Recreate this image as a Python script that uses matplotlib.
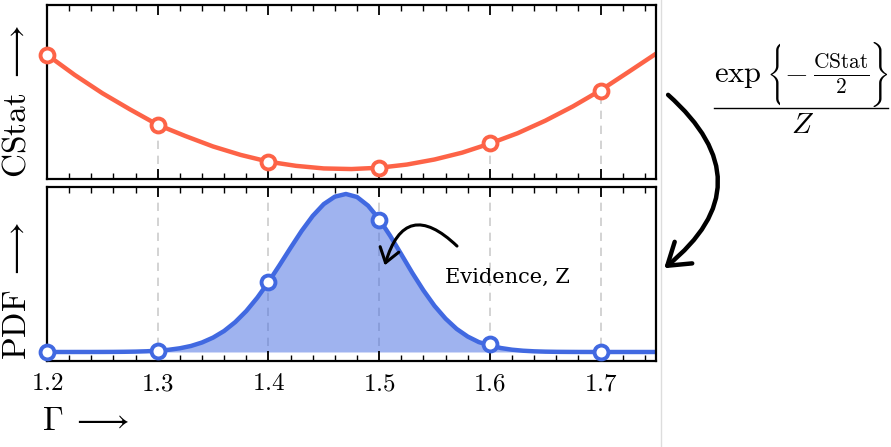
import numpy as np
import matplotlib
matplotlib.use("Agg")
import matplotlib.pyplot as plt
from matplotlib.patches import FancyArrowPatch
from matplotlib.lines import Line2D
from matplotlib.ticker import MultipleLocator
from matplotlib.transforms import Bbox

plt.rcParams['mathtext.fontset'] = 'cm'
plt.rcParams['font.family'] = 'serif'
plt.rcParams['font.serif'] = ['DejaVu Serif']

# sampled points (markers)
gamma_pts = [1.2, 1.3, 1.4, 1.5, 1.6, 1.7]
cstat_pts = [12.5, 5.4, 1.7, 1.1, 3.6, 8.9]
pdf_pts = [0.0, 0.008, 0.44, 0.835, 0.05, 0.0]

# smooth curves
gamma_cs = [1.200, 1.225, 1.250, 1.275, 1.300, 1.325, 1.350, 1.375, 1.400, 1.425, 1.450, 1.475,
            1.500, 1.525, 1.550, 1.575, 1.600, 1.625, 1.650, 1.675, 1.700, 1.725, 1.750]
cstat_curve = [12.5, 10.47, 8.63, 7.0, 5.45, 4.32, 3.27, 2.42, 1.74, 1.32, 1.06, 1.0,
               1.13, 1.45, 1.96, 2.65, 3.56, 4.6, 5.86, 7.3, 8.92, 10.75, 12.6]

gamma_pdf = [1.20, 1.21, 1.22, 1.23, 1.24, 1.25, 1.26, 1.27, 1.28, 1.29, 1.30, 1.31, 1.32, 1.33,
             1.34, 1.35, 1.36, 1.37, 1.38, 1.39, 1.40, 1.41, 1.42, 1.43, 1.44, 1.45, 1.46, 1.47,
             1.48, 1.49, 1.50, 1.51, 1.52, 1.53, 1.54, 1.55, 1.56, 1.57, 1.58, 1.59, 1.60, 1.61,
             1.62, 1.63, 1.64, 1.65, 1.66, 1.67, 1.68, 1.70, 1.72, 1.75]
pdf_curve = [0.0, 0.0, 0.0, 0.0001, 0.0001, 0.0003, 0.0006, 0.0013, 0.0024, 0.0045, 0.0081, 0.014,
             0.0235, 0.038, 0.060, 0.091, 0.133, 0.189, 0.259, 0.344, 0.442, 0.549, 0.659, 0.766,
             0.861, 0.936, 0.983, 1.0, 0.981, 0.926, 0.841, 0.735, 0.618, 0.500, 0.390, 0.292,
             0.211, 0.146, 0.0976, 0.0627, 0.042, 0.025, 0.0145, 0.008, 0.0042, 0.0021, 0.001,
             0.0005, 0.0002, 0.0, 0.0, 0.0]

red = '#fd6347'
blue = '#4169e1'
W, H = 891, 447

def fp(x, y):
    # pixel position in the picture -> figure fraction
    return (x / W, 1 - y / H)

def pixbox(x0, y0, x1, y1):
    # picture pixel rectangle -> display bbox (for clipping)
    return Bbox.from_extents(x0, H - y1, x1, H - y0)

fig = plt.figure(figsize=(8.91, 4.47), dpi=100)
ax1 = fig.add_axes([0.0527, 0.5996, 0.6835, 0.3892])
ax2 = fig.add_axes([0.0527, 0.1924, 0.6835, 0.3892])

for ax in (ax1, ax2):
    ax.set_xlim(1.2, 1.75)
    ax.xaxis.set_major_locator(MultipleLocator(0.1))
    ax.xaxis.set_minor_locator(MultipleLocator(0.02))
    ax.tick_params(axis='x', which='major', direction='in', top=True, bottom=True,
                   length=7, width=1.3)
    ax.tick_params(axis='x', which='minor', direction='in', top=True, bottom=True,
                   length=4, width=1.0)
    ax.set_yticks([])
    for s in ax.spines.values():
        s.set_linewidth(1.6)

# top panel
ax1.set_ylim(0, 17.5)
ax1.vlines(gamma_pts[1:], 0, cstat_pts[1:], colors='#cccccc', linestyles=(0, (5, 4)), lw=1.2, zorder=1)
ax1.plot(gamma_cs, cstat_curve, color=red, lw=3.2, zorder=2, solid_capstyle='round')
ax1.plot(gamma_pts, cstat_pts, 'o', ms=10, mfc='white', mec=red, mew=2.8, zorder=3, clip_on=False)
ax1.set_xticklabels([])

# bottom panel
ax2.set_ylim(-0.057, 1.044)
for g in gamma_pts[1:]:
    ax2.axvline(g, color='#cccccc', ls=(0, (5, 4)), lw=1.2, zorder=0)
ax2.fill_between(gamma_pdf, 0, pdf_curve, color=blue, alpha=0.5, lw=0, zorder=1)
ax2.plot(gamma_pdf, pdf_curve, color=blue, lw=3.2, zorder=2, solid_capstyle='round')
ax2.plot(gamma_pts, pdf_pts, 'o', ms=10, mfc='white', mec=blue, mew=2.8, zorder=3, clip_on=False)
ax2.set_xticks(gamma_pts)
ax2.set_xticklabels([f'${g:.1f}$' for g in gamma_pts], fontsize=18)
ax2.tick_params(axis='x', which='major', pad=8)

# axis labels
fig.text(*fp(17, 178), r'$\mathrm{CStat}\ \longrightarrow$', fontsize=24,
         rotation=90, ha='center', va='bottom')
fig.text(*fp(17, 360), r'$\mathrm{PDF}\ \longrightarrow$', fontsize=24,
         rotation=90, ha='center', va='bottom')
fig.text(*fp(42, 421), r'$\Gamma\;\longrightarrow$', fontsize=24, ha='left', va='center')

ax2.text(1.616, 0.474, 'Evidence, Z', fontsize=15, ha='center', va='center', family='DejaVu Serif')

# small arrow pointing into the area
a1 = FancyArrowPatch(fp(459, 248), fp(384, 268), transform=fig.transFigure,
                     connectionstyle='arc3,rad=0.85', arrowstyle='->,head_length=0.5,head_width=0.35',
                     mutation_scale=20, lw=2.2, color='black')
fig.add_artist(a1)

# big curved arrow
a2 = FancyArrowPatch(fp(666, 93), fp(662, 270), transform=fig.transFigure,
                     connectionstyle='arc3,rad=-0.6', arrowstyle='->,head_length=0.6,head_width=0.4',
                     mutation_scale=25, lw=3.2, color='black')
fig.add_artist(a2)

# thin grey separator
fig.add_artist(Line2D([660.5 / W, 660.5 / W], [0, 1], transform=fig.transFigure,
                      color='#dddddd', lw=1.0))

# formula; tall braces sized by a narrow display fraction, clipped to the brace only
fig.text(*fp(714, 82), r'$\exp$', fontsize=22, ha='left', va='baseline')
lb = fig.text(*fp(766, 74), r'$\left\{\dfrac{|}{|}\!\!\!\!\!\!\right.$', fontsize=20,
              ha='left', va='center')
lb.set_clip_box(pixbox(760, 30, 780, 120))
lb.set_clip_on(True)
fig.text(*fp(796, 73), r'$-$', fontsize=22, ha='center', va='center')
fig.text(*fp(841, 74), r'$\frac{\mathrm{CStat}}{2}$', fontsize=22, ha='center', va='center')
rb = fig.text(*fp(888, 74), r'$\left.\!\!\!\!\!\!\dfrac{|}{|}\right\}$', fontsize=20,
              ha='right', va='center')
rb.set_clip_box(pixbox(871, 30, 891, 120))
rb.set_clip_on(True)
fig.add_artist(Line2D([714 / W, 888 / W], [1 - 108 / H, 1 - 108 / H], transform=fig.transFigure,
                      color='black', lw=1.0))
fig.text(*fp(803, 125), r'$Z$', fontsize=21, ha='center', va='center')

fig.savefig('out.png', dpi=100)
